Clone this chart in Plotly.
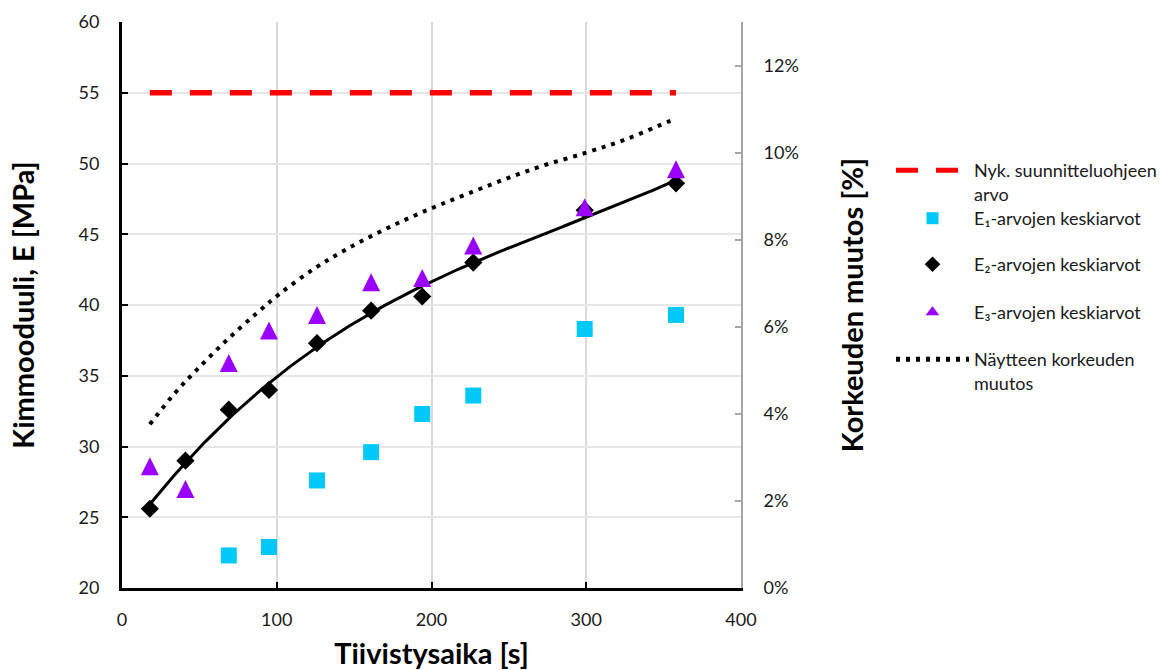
import numpy as np
import plotly.graph_objects as go

# ---------------- data ----------------
time_s = [18, 41, 69, 95, 126, 161, 194, 227, 299, 358]
e1_time = [69, 95, 126, 161, 194, 227, 299, 358]
e1_mean = [22.3, 22.9, 27.6, 29.6, 32.3, 33.6, 38.3, 39.3]
e2_mean = [25.6, 29.0, 32.6, 34.0, 37.3, 39.6, 40.6, 43.0, 46.7, 48.6]
e3_mean = [28.6, 27.0, 35.9, 38.2, 39.3, 41.6, 41.9, 44.2, 46.9, 49.6]
height_time = [18, 34, 48, 67, 87, 102, 124, 143, 166, 192, 223, 266, 300, 326, 353, 357]
height_change_pct = [3.76, 4.47, 5.00, 5.67, 6.31, 6.76, 7.33, 7.74, 8.17, 8.60,
                     9.05, 9.63, 10.00, 10.31, 10.71, 10.76]
design_value = 55

x_ticks = [0, 100, 200, 300, 400]
y_ticks = [20, 25, 30, 35, 40, 45, 50, 55, 60]
y2_ticks = [0, 2, 4, 6, 8, 10, 12]
y2_ticklabels = [f"{v}%" for v in y2_ticks]

names = {
    "design": "Nyk. suunnitteluohjeen<br>arvo",
    "e1": "E₁-arvojen keskiarvot",
    "e2": "E₂-arvojen keskiarvot",
    "e3": "E₃-arvojen keskiarvot",
    "height": "Näytteen korkeuden<br>muutos",
}

# trendline of E2 (polynomial trendline fitted to the E2 means)
coef = np.polyfit(time_s, e2_mean, 3)
trend_x = np.linspace(min(time_s), max(time_s), 200)
trend_y = np.polyval(coef, trend_x)

FONT = "Lato"
W, H = 1167, 670
ML, MR, MT, MB = 122, 426, 22, 82
PW, PH = W - ML - MR, H - MT - MB

E3_COLOR = "#9900FF"


def px_x(px):
    return (px - ML) / PW


def px_y(py):
    return (H - MB - py) / PH


fig = go.Figure()

fig.add_trace(go.Scatter(
    x=[min(time_s), max(time_s)], y=[design_value, design_value],
    mode="lines", name=names["design"], legend="legend",
    line=dict(color="#FF0000", width=5.5, dash="22px,18px"),
))
fig.add_trace(go.Scatter(
    x=e1_time, y=e1_mean, mode="markers", name=names["e1"], legend="legend2",
    marker=dict(symbol="square", size=16, color="#00C8F8"),
))
fig.add_trace(go.Scatter(
    x=trend_x, y=trend_y, mode="lines", showlegend=False,
    line=dict(color="black", width=3),
))
fig.add_trace(go.Scatter(
    x=time_s, y=e2_mean, mode="markers", name=names["e2"], legend="legend3",
    marker=dict(symbol="diamond", size=14, color="black"),
))
# E3 markers: upright triangle, as tall as it is wide
fig.add_trace(go.Scatter(
    x=time_s, y=e3_mean, mode="markers", name=names["e3"], legendgroup="e3",
    showlegend=False,
    marker=dict(symbol="arrow-down", angle=180, standoff=9, size=18, color=E3_COLOR),
))
# legend entry for E3 (no data points of its own)
fig.add_trace(go.Scatter(
    x=[None], y=[None], mode="markers", name=names["e3"], legendgroup="e3",
    legend="legend4", marker=dict(symbol="triangle-up", size=12, color=E3_COLOR),
))
fig.add_trace(go.Scatter(
    x=height_time, y=height_change_pct, mode="lines", name=names["height"],
    legend="legend5", yaxis="y2",
    line=dict(color="black", width=4, dash="4px,6px", shape="spline"),
))

leg_common = dict(
    xanchor="left", yanchor="top", bgcolor="rgba(0,0,0,0)",
    font=dict(family=FONT, size=18, color="#1a1a1a"),
    itemsizing="constant", itemwidth=73, valign="top",
)
leg_x = px_x(891)
fig.update_layout(
    legend=dict(x=leg_x, y=px_y(152), **leg_common),
    legend2=dict(x=leg_x, y=px_y(200), **leg_common),
    legend3=dict(x=leg_x, y=px_y(246), **leg_common),
    legend4=dict(x=leg_x, y=px_y(294), **leg_common),
    legend5=dict(x=leg_x, y=px_y(341), **leg_common),
)

tick_font = dict(family=FONT, size=18, color="#1a1a1a")
title_font = dict(family=FONT, size=29, color="black", weight="bold")

fig.update_layout(
    width=W, height=H,
    margin=dict(l=ML, r=MR, t=MT, b=MB, pad=0, autoexpand=False),
    paper_bgcolor="white", plot_bgcolor="white",
    xaxis=dict(
        range=[0, 400], tickvals=x_ticks, ticks="inside", ticklen=6, tickwidth=2,
        tickcolor="black", showline=True, linecolor="black", linewidth=3,
        showgrid=True, gridcolor="#D9D9D9", gridwidth=2, zeroline=False,
        tickfont=tick_font, ticklabelstandoff=13, automargin=False,
        title=dict(text="Tiivistysaika [s]", font=title_font, standoff=16),
    ),
    yaxis=dict(
        range=[20, 60], tickvals=y_ticks, ticks="inside", ticklen=6, tickwidth=2,
        tickcolor="black", showline=True, linecolor="black", linewidth=3,
        showgrid=True, gridcolor="#E6E6E6", gridwidth=1.5, zeroline=False,
        tickfont=tick_font, ticklabelstandoff=16, automargin=False,
        title=dict(text="Kimmooduuli, E [MPa]", font=title_font, standoff=36),
    ),
    yaxis2=dict(
        range=[0, 13], tickvals=y2_ticks, ticktext=y2_ticklabels,
        overlaying="y", side="right",
        ticks="inside", ticklen=6, tickwidth=1.5, tickcolor="#A6A6A6",
        showline=True, linecolor="#A6A6A6", linewidth=2, showgrid=False, zeroline=False,
        tickfont=tick_font, ticklabelstandoff=17, automargin=False,
        title=dict(text="Korkeuden muutos [%]", font=title_font, standoff=45),
    ),
)

fig.write_html(
    "out.html",
    config={"displayModeBar": False},
    post_script="document.body.style.margin='0';document.body.style.overflow='hidden';",
)
